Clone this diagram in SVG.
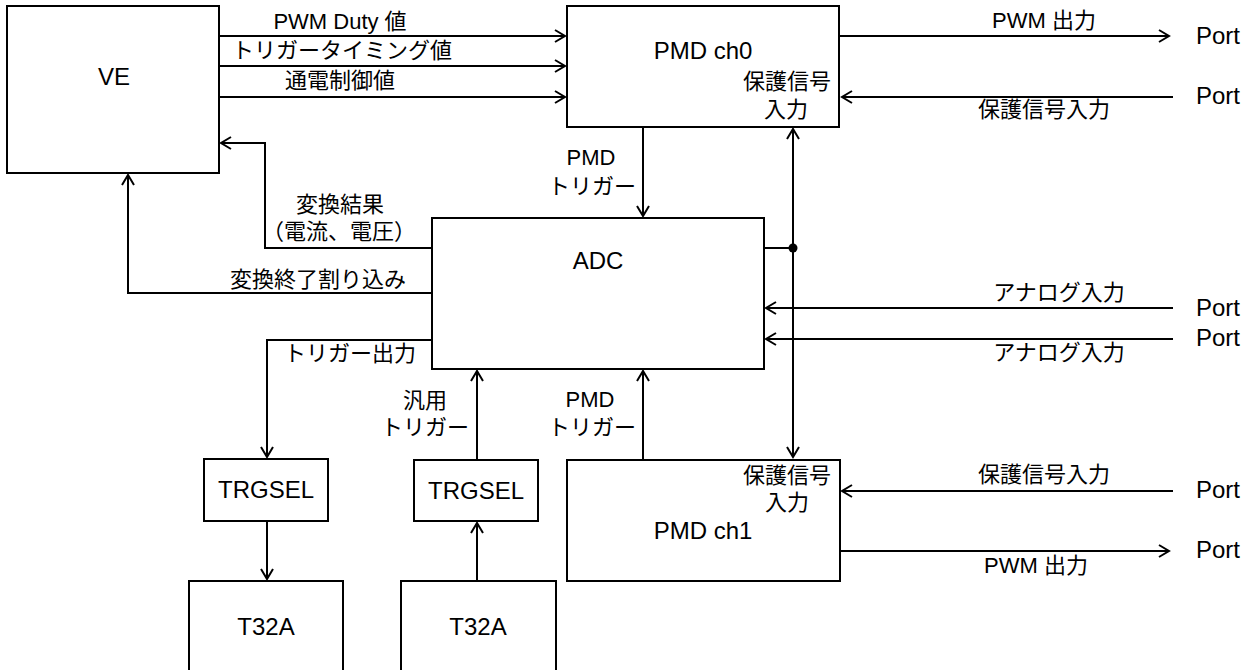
<svg xmlns="http://www.w3.org/2000/svg" width="1251" height="670" viewBox="0 0 1251 670">
<style>
.box{fill:#fff;stroke:#000;stroke-width:2}
.ln{fill:none;stroke:#000;stroke-width:2}
.ar{marker-end:url(#ah)}
.bi{marker-start:url(#ah);marker-end:url(#ah)}
text{font-family:"Liberation Sans","Noto Sans CJK JP",sans-serif;fill:#000}
.t{font-size:24px;text-anchor:middle}
.s{font-size:22px;text-anchor:middle}
.p{font-size:24px}
</style>
<defs>
<marker id="ah" markerUnits="userSpaceOnUse" markerWidth="14" markerHeight="16" refX="11" refY="7" orient="auto-start-reverse">
<path d="M1,1 L11,7 L1,13" fill="none" stroke="#000" stroke-width="2"/>
</marker>
</defs>
<rect width="1251" height="670" fill="#fff"/>
<g id="connectors">
<path class="ln ar" d="M219,36 H565"/>
<path class="ln ar" d="M219,66 H565"/>
<path class="ln ar" d="M219,97 H565"/>
<path class="ln ar" d="M839,36 H1169"/>
<path class="ln ar" d="M1173,97 H842"/>
<path class="ln ar" d="M643,127 V216"/>
<path class="ln bi" d="M793,129 V457"/>
<path class="ln" d="M764,248 H793"/>
<circle cx="793" cy="248" r="4.5" fill="#000"/>
<path class="ln ar" d="M1173,308 H766"/>
<path class="ln ar" d="M1173,339 H766"/>
<path class="ln ar" d="M432,248 H265 V143 H221"/>
<path class="ln ar" d="M432,293 H128 V175"/>
<path class="ln ar" d="M432,340 H267 V457"/>
<path class="ln ar" d="M267,521 V579"/>
<path class="ln ar" d="M477,460 V371"/>
<path class="ln ar" d="M477,581 V523"/>
<path class="ln ar" d="M643,460 V371"/>
<path class="ln ar" d="M1173,491 H842"/>
<path class="ln ar" d="M840,551 H1169"/>
<text class="s" x="340" y="29">PWM Duty 値</text>
<text class="s" x="342" y="58">トリガータイミング値</text>
<text class="s" x="340" y="88">通電制御値</text>
<text class="s" x="1044" y="28">PWM 出力</text>
<text class="s" x="1044" y="117">保護信号入力</text>
<text class="s" x="591" y="165">PMD</text>
<text class="s" x="592" y="194">トリガー</text>
<text class="s" x="340" y="212">変換結果</text>
<text class="s" x="339" y="239">（電流、電圧）</text>
<text class="s" x="318" y="287">変換終了割り込み</text>
<text class="s" x="350" y="361">トリガー出力</text>
<text class="s" x="1059" y="300">アナログ入力</text>
<text class="s" x="1059" y="360">アナログ入力</text>
<text class="s" x="425" y="408">汎用</text>
<text class="s" x="425" y="435">トリガー</text>
<text class="s" x="590" y="407">PMD</text>
<text class="s" x="592" y="435">トリガー</text>
<text class="s" x="1044" y="482">保護信号入力</text>
<text class="s" x="1036" y="573">PWM 出力</text>
<text class="p" x="1196" y="44">Port</text>
<text class="p" x="1196" y="104">Port</text>
<text class="p" x="1196" y="316">Port</text>
<text class="p" x="1196" y="346">Port</text>
<text class="p" x="1196" y="498">Port</text>
<text class="p" x="1196" y="558">Port</text>
</g>
<g id="VE">
<rect class="box" x="7" y="6" width="212" height="167"/>
<text class="t" x="114" y="85">VE</text>
</g>
<g id="PMD0">
<rect class="box" x="567" y="6" width="272" height="121"/>
<text class="t" x="703" y="59">PMD ch0</text>
<text class="s" x="787" y="89">保護信号</text>
<text class="s" x="786" y="117">入力</text>
</g>
<g id="ADC">
<rect class="box" x="432" y="218" width="332" height="151"/>
<text class="t" x="598" y="269">ADC</text>
</g>
<g id="PMD1">
<rect class="box" x="567" y="460" width="273" height="121"/>
<text class="s" x="787" y="483">保護信号</text>
<text class="s" x="787" y="510">入力</text>
<text class="t" x="703" y="539">PMD ch1</text>
</g>
<g id="TRGSEL1">
<rect class="box" x="204" y="459" width="124" height="62"/>
<text class="t" x="266" y="498">TRGSEL</text>
</g>
<g id="TRGSEL2">
<rect class="box" x="414" y="460" width="124" height="61"/>
<text class="t" x="476" y="499">TRGSEL</text>
</g>
<g id="T32A1">
<rect class="box" x="189" y="581" width="154" height="100"/>
<text class="t" x="266" y="635">T32A</text>
</g>
<g id="T32A2">
<rect class="box" x="401" y="581" width="155" height="100"/>
<text class="t" x="478" y="635">T32A</text>
</g>
</svg>
